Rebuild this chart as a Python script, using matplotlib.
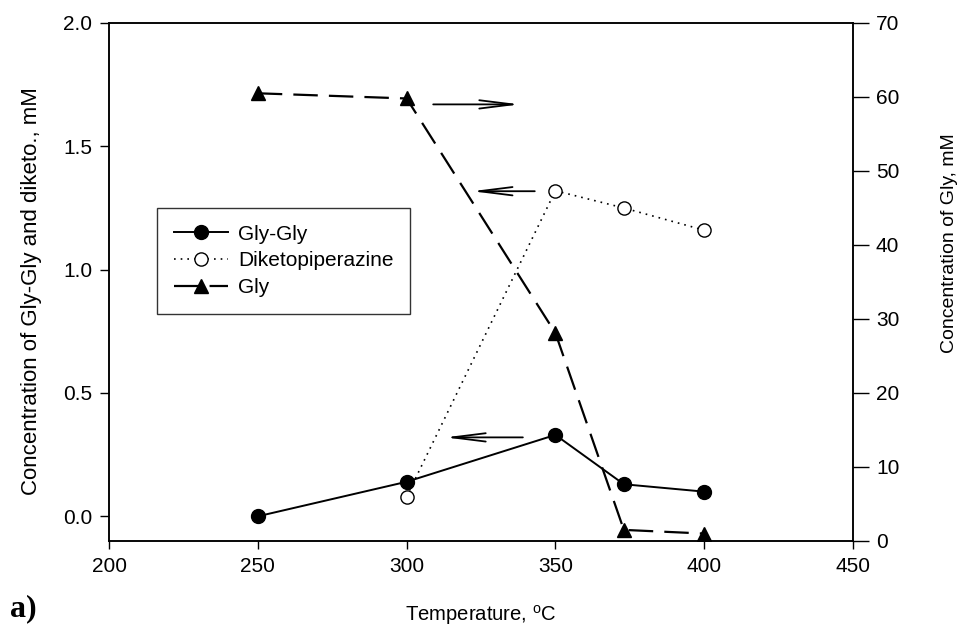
import matplotlib
matplotlib.use('Agg')
import matplotlib.pyplot as plt

plt.rcParams['font.family'] = ['Liberation Sans', 'DejaVu Sans']
plt.rcParams['mathtext.fontset'] = 'custom'
plt.rcParams['mathtext.rm'] = 'Liberation Sans'

# data
temp_glygly = [250, 300, 350, 373, 400]
glygly = [0.0, 0.14, 0.33, 0.13, 0.10]

temp_diketo = [300, 350, 373, 400]
diketo = [0.08, 1.32, 1.25, 1.16]

temp_gly = [250, 300, 350, 373, 400]
gly = [60.5, 59.8, 28.1, 1.5, 1.0]

fig = plt.figure(figsize=(9.58, 6.3), dpi=100)
ax = fig.add_axes([0.1138, 0.1413, 0.7766, 0.8222])
ax2 = ax.twinx()

l1, = ax.plot(temp_glygly, glygly, color='black', lw=1.4, marker='o',
              markersize=10, markerfacecolor='black', label='Gly-Gly')
l2, = ax.plot(temp_diketo, diketo, color='black', lw=1.2, dashes=(1, 3),
              marker='o', markersize=9.5, markerfacecolor='white',
              markeredgewidth=1.0, label='Diketopiperazine')
l3, = ax2.plot(temp_gly, gly, color='black', lw=1.6, dashes=(11, 5),
               marker='^', markersize=10, markerfacecolor='black', label='Gly')

ax.set_xlim(200, 450)
ax.set_ylim(-0.1, 2.0)
ax2.set_ylim(0, 70)
ax.set_xticks([200, 250, 300, 350, 400, 450])
ax.set_yticks([0.0, 0.5, 1.0, 1.5, 2.0])
ax.set_yticklabels(['0.0', '0.5', '1.0', '1.5', '2.0'])
ax2.set_yticks(range(0, 80, 10))

ax.tick_params(axis='x', direction='out', length=5.5, width=1, labelsize=15, pad=6)
ax.tick_params(axis='y', direction='out', length=6.2, width=1, labelsize=15, pad=6)
ax2.tick_params(axis='y', direction='out', length=11.5, width=1, labelsize=15, pad=5)
for a in (ax, ax2):
    for s in a.spines.values():
        s.set_linewidth(1.1)

# arrows showing which axis each curve uses
arrow = dict(arrowstyle='->,head_length=2.4,head_width=0.3', color='black', lw=1.3)
ax2.annotate('', xy=(339, 59.0), xytext=(308, 59.0), arrowprops=arrow)
ax.annotate('', xy=(321, 1.318), xytext=(344, 1.318), arrowprops=arrow)
ax.annotate('', xy=(312, 0.32), xytext=(340, 0.32), arrowprops=arrow)

ax.set_xlabel('Temperature, $^{\\rm o}$C', fontsize=14.6)
ax.xaxis.set_label_coords(0.5, -0.12)
ax.set_ylabel('Concentration of Gly-Gly and diketo., mM', fontsize=16)
ax.yaxis.set_label_coords(-0.09, 0.483)
ax2.set_ylabel('Concentration of Gly, mM', fontsize=14)
ax2.yaxis.set_label_coords(1.118, 0.575)

leg = ax2.legend(handles=[l1, l2, l3], loc='upper left',
                 bbox_to_anchor=(0.0645, 0.643), borderaxespad=0,
                 fontsize=15, frameon=True, fancybox=False, edgecolor='black',
                 borderpad=0.8, handlelength=2.6, handletextpad=0.5,
                 labelspacing=0.38)
leg.get_frame().set_linewidth(1.0)

fig.text(0.01, 0.022, 'a)', fontsize=23, fontweight='bold',
         family='Liberation Serif')

fig.savefig('out.png', dpi=100)
